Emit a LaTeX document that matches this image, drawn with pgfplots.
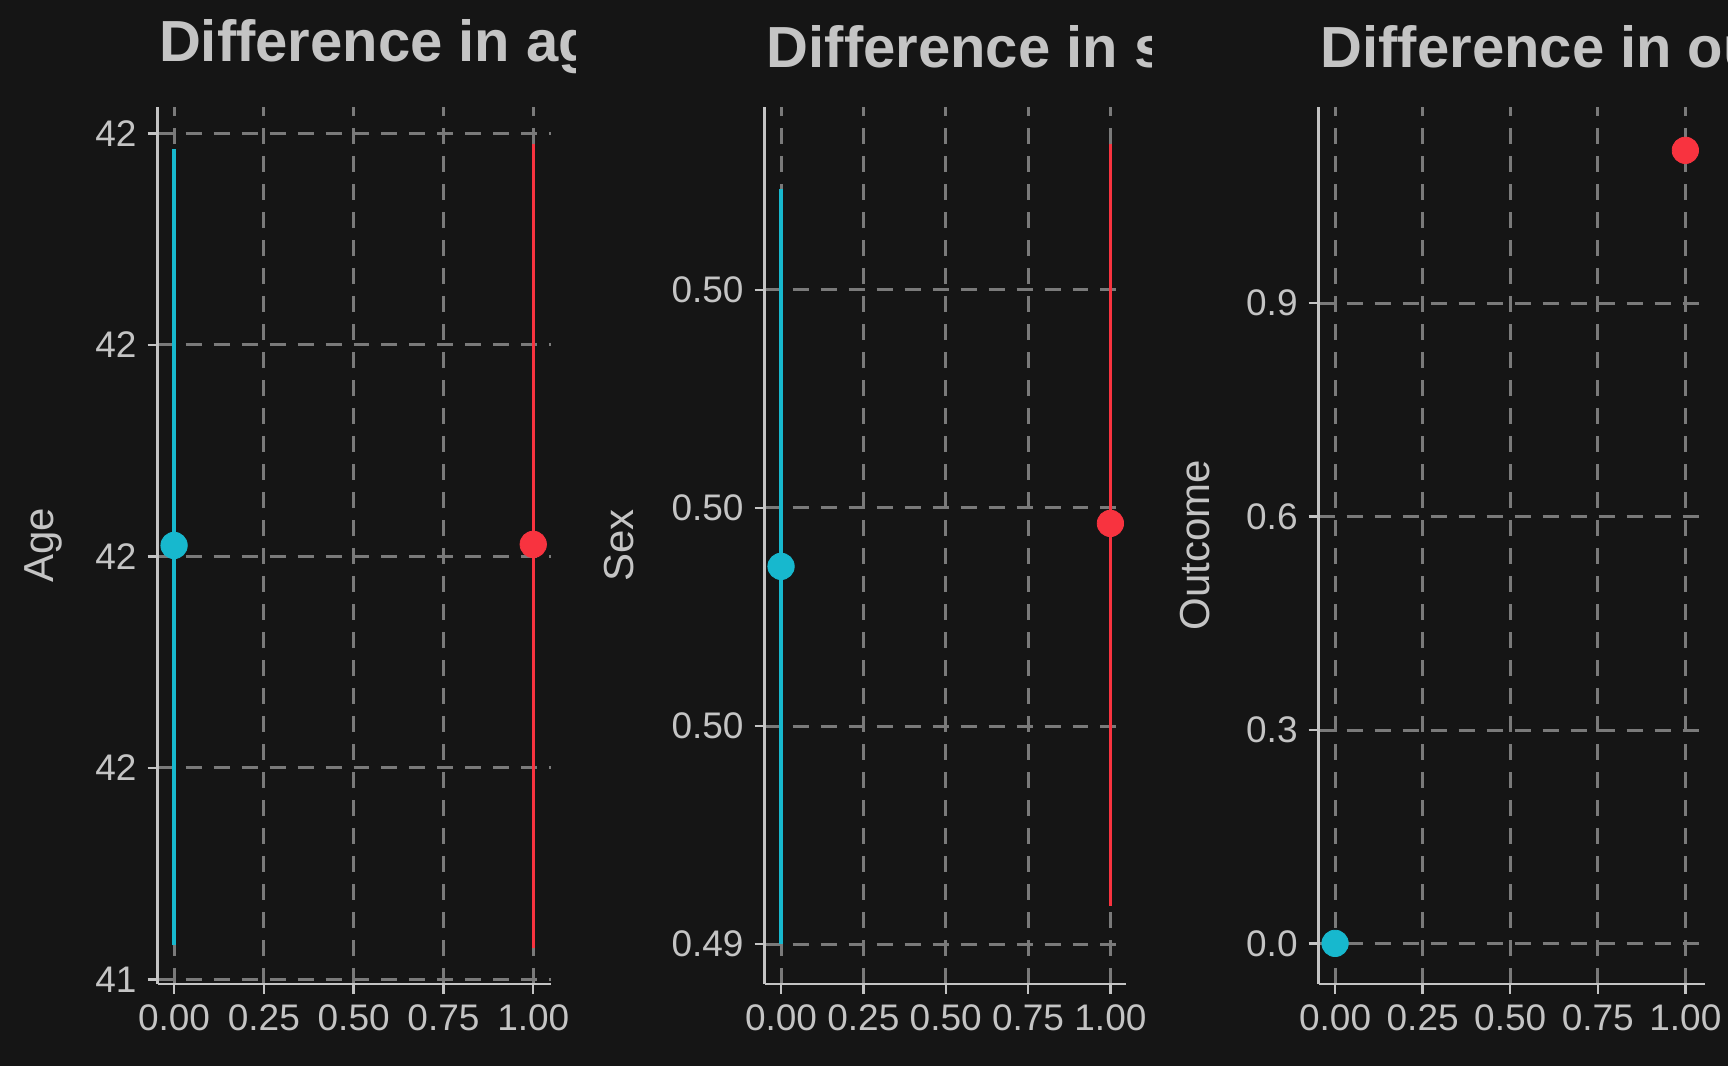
\documentclass[border=0pt]{standalone}
\usepackage{pgfplots}
\pgfplotsset{compat=1.18}
\usepackage{fontspec}
\setmainfont{Liberation Sans}
\definecolor{bg}{HTML}{151515}
\definecolor{tx}{HTML}{C4C4C4}
\definecolor{gr}{HTML}{7A7A7A}
\definecolor{cy}{HTML}{17B8CE}
\definecolor{rd}{HTML}{F8333F}
\pgfplotsset{
  mystyle/.style={
    scale only axis, height=438.6pt,
    axis lines=left, axis line style={tx,line width=1.4pt,-},
    tick style={tx,line width=1.2pt}, major tick length=5pt, tick align=outside,
    tick label style={tx,font=\fontsize{18.5}{20}\selectfont},
    xticklabel style={yshift=-2pt}, yticklabel style={xshift=-2pt},
    /pgf/number format/assume math mode=true,
    xmajorgrids, ymajorgrids,
    grid style={gr,line width=1.5pt,dash pattern=on 8pt off 6pt},
    xtick={0,0.25,0.5,0.75,1},
    xticklabels={0.00,0.25,0.50,0.75,1.00},
    ylabel style={tx,font=\fontsize{21}{23}\selectfont,anchor=center},
    clip=false,
  },
  ebar/.style={line width=1.6pt,no marks},
  dot/.style={only marks,mark=*,mark size=6.6pt},
}
\begin{document}
\begin{tikzpicture}
\fill[bg] (0,0) rectangle (864pt,533.4pt);
\begin{scope}
\clip (70pt,480pt) rectangle (287.6pt,533pt);
\node[anchor=west,text=tx,font=\fontsize{29}{32}\bfseries] at (76pt,510pt) {Difference in age};
\end{scope}
\begin{scope}
\clip (370pt,480pt) rectangle (575.8pt,533pt);
\node[anchor=west,text=tx,font=\fontsize{29}{32}\bfseries] at (380pt,510pt) {Difference in sex};
\end{scope}
\begin{scope}
\clip (650pt,480pt) rectangle (864pt,533pt);
\node[anchor=west,text=tx,font=\fontsize{29}{32}\bfseries] at (657pt,510pt) {Difference in outcome};
\end{scope}
% panel 1
\begin{axis}[mystyle, at={(78.8pt,41.3pt)}, anchor=south west, width=196.7pt,
  xmin=-0.046, xmax=1.049, ymin=-0.021, ymax=4.125,
  ytick={0,1,2,3,4}, yticklabels={41,42,42,42,42},
  ylabel={Age}, ylabel style={at={(axis description cs:-0.29,0.5)}}]
\addplot[ebar,cy] coordinates {(0,0.161) (0,3.927)};
\addplot[ebar,rd] coordinates {(1,0.151) (1,3.948)};
\addplot[dot,cy] coordinates {(0,2.052)};
\addplot[dot,rd] coordinates {(1,2.057)};
\end{axis}
% panel 2
\begin{axis}[mystyle, at={(382.4pt,41.3pt)}, anchor=south west, width=180.7pt,
  xmin=-0.05, xmax=1.047, ymin=-0.182, ymax=3.838,
  ytick={0,1,2,3}, yticklabels={0.49,0.50,0.50,0.50},
  ylabel={Sex}, ylabel style={at={(axis description cs:-0.404,0.5)}}]
\addplot[ebar,cy] coordinates {(0,0) (0,3.46)};
\addplot[ebar,rd] coordinates {(1,0.177) (1,3.667)};
\addplot[dot,cy] coordinates {(0,1.732)};
\addplot[dot,rd] coordinates {(1,1.929)};
\end{axis}
% panel 3
\begin{axis}[mystyle, at={(659.5pt,41.3pt)}, anchor=south west, width=193.4pt,
  xmin=-0.047, xmax=1.057, ymin=-0.057, ymax=1.176,
  ytick={0,0.3,0.6,0.9}, yticklabels={0.0,0.3,0.6,0.9},
  ylabel={Outcome}, ylabel style={at={(axis description cs:-0.32,0.5)}}]
\addplot[dot,cy] coordinates {(0,0)};
\addplot[dot,rd] coordinates {(1,1.115)};
\end{axis}
\end{tikzpicture}
\end{document}
